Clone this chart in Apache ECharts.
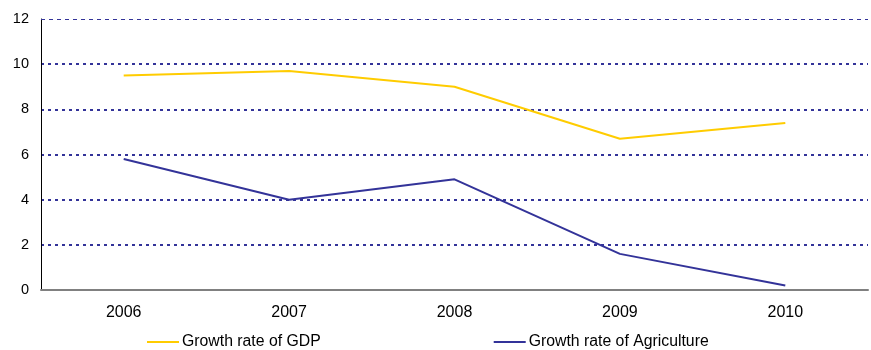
<!DOCTYPE html>
<html>
<head>
<meta charset="utf-8">
<script src="https://cdn.jsdelivr.net/npm/echarts@6/dist/echarts.min.js"></script>
<style>
  html, body { margin: 0; padding: 0; background: #fff; }
  #chart { width: 871px; height: 350px; }
</style>
</head>
<body>
<div id="chart"></div>
<script>
// Annual growth rates (%)
const years = ['2006', '2007', '2008', '2009', '2010'];
const gdpGrowth = [9.5, 9.7, 9.0, 6.7, 7.4];
const agricultureGrowth = [5.8, 4.0, 4.9, 1.6, 0.2];
const seriesNames = ['Growth rate of GDP', 'Growth rate of Agriculture'];

const chart = echarts.init(document.getElementById('chart'));
const font = 'Liberation Sans, Arial, sans-serif';

chart.setOption({
  animation: false,
  textStyle: { fontFamily: font },
  grid: { left: 41, right: 3, top: 19, bottom: 60, containLabel: false },
  legend: {
    top: 334,
    left: 147,
    padding: 0,
    itemGap: 173,
    itemWidth: 32,
    itemHeight: 2,
    icon: 'rect',
    textStyle: { fontFamily: font, fontSize: 15.8, color: '#000', padding: [0, 0, 0, -2] },
    data: seriesNames
  },
  xAxis: {
    type: 'category',
    data: years,
    boundaryGap: true,
    axisLine: { lineStyle: { color: '#808080', width: 2 } },
    axisTick: { show: false },
    axisLabel: { color: '#000', fontSize: 16, margin: 15, fontFamily: font }
  },
  yAxis: {
    type: 'value',
    min: 0,
    max: 12,
    interval: 2,
    axisLine: { show: true, lineStyle: { color: '#000', width: 1 } },
    axisTick: { show: false },
    axisLabel: { color: '#000', fontSize: 14.5, margin: 12, fontFamily: font },
    splitLine: {
      show: true,
      showMaxLine: false,
      lineStyle: { color: '#333399', width: 2, type: [3, 4] }
    }
  },
  series: [
    {
      name: seriesNames[0],
      type: 'line',
      data: gdpGrowth,
      symbol: 'none',
      itemStyle: { color: '#FFCC00' },
      lineStyle: { color: '#FFCC00', width: 2 },
      markLine: {
        silent: true,
        symbol: 'none',
        label: { show: false },
        lineStyle: { color: '#333399', width: 1, type: [4, 4] },
        data: [{ yAxis: 12 }]
      }
    },
    {
      name: seriesNames[1],
      type: 'line',
      data: agricultureGrowth,
      symbol: 'none',
      itemStyle: { color: '#333399' },
      lineStyle: { color: '#333399', width: 2 }
    }
  ]
});
</script>
</body>
</html>
